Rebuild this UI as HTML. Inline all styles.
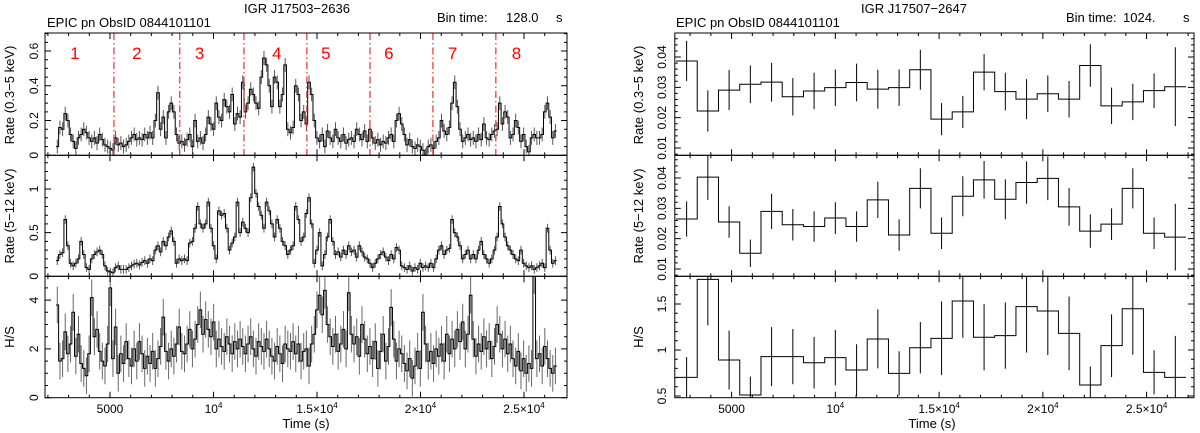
<!DOCTYPE html>
<html><head><meta charset="utf-8">
<style>
html,body{margin:0;padding:0;background:#fff;}
svg{display:block;font-family:"Liberation Sans","DejaVu Sans",sans-serif;}
</style></head>
<body>
<svg id="chart" width="1200" height="433" viewBox="0 0 1200 433" xmlns="http://www.w3.org/2000/svg">
<rect x="0" y="0" width="1200" height="433" fill="#fff"/>
<text x="297" y="13" font-size="13" text-anchor="middle">IGR J17503−2636</text>
<text x="47" y="27" font-size="13">EPIC pn ObsID 0844101101</text>
<text x="437" y="22" font-size="13">Bin time:</text>
<text x="506" y="22" font-size="13">128.0</text>
<text x="556" y="22" font-size="13">s</text>
<text x="914" y="13" font-size="13" text-anchor="middle">IGR J17507−2647</text>
<text x="676" y="27" font-size="13">EPIC pn ObsID 0844101101</text>
<text x="1066" y="22" font-size="13">Bin time:</text>
<text x="1123" y="22" font-size="13">1024.</text>
<text x="1183" y="22" font-size="13">s</text>
<text x="306" y="428" font-size="13" text-anchor="middle">Time (s)</text>
<text x="932" y="428" font-size="13" text-anchor="middle">Time (s)</text>
</svg>
<script>
// ---------- LEFT (IGR J17503-2636, 128 s bins) ----------
const L_t0 = 2390, L_bin = 128;
const L_soft = [0.05,0.16,0.15,0.24,0.20, 0.12,0.08,0.04,0.10,0.12, 0.15,0.13,0.10,0.08,0.10, 0.07,0.12,0.09,0.06,0.05,
0.04,0.03,0.10,0.06,0.07, 0.05,0.06,0.08,0.10,0.12, 0.09,0.10,0.09,0.12,0.10, 0.13,0.10,0.20,0.36,0.15,
0.22,0.10,0.25,0.30,0.25, 0.12,0.07,0.08,0.06,0.09, 0.12,0.05,0.20,0.08,0.10, 0.07,0.12,0.22,0.18,0.15,
0.30,0.22,0.20,0.32,0.28, 0.25,0.35,0.18,0.24,0.22, 0.42,0.25,0.30,0.38,0.35, 0.30,0.27,0.45,0.56,0.52,
0.40,0.28,0.45,0.42,0.28, 0.35,0.52,0.15,0.13,0.16, 0.40,0.35,0.20,0.25,0.18, 0.42,0.35,0.20,0.10,0.08,
0.12,0.05,0.14,0.10,0.08, 0.15,0.10,0.08,0.12,0.07, 0.09,0.10,0.08,0.15,0.12, 0.09,0.14,0.08,0.15,0.10,
0.07,0.09,0.06,0.08,0.07, 0.10,0.12,0.08,0.20,0.24, 0.18,0.12,0.06,0.09,0.05, 0.04,0.06,0.05,0.03,0.00,
0.05,0.06,0.04,0.08,0.10, 0.20,0.14,0.12,0.16,0.30, 0.42,0.28,0.15,0.08,0.10, 0.12,0.09,0.10,0.08,0.12,
0.09,0.18,0.10,0.09,0.12, 0.14,0.15,0.30,0.18,0.25, 0.22,0.10,0.12,0.20,0.16, 0.08,0.12,0.05,0.02,0.10,
0.12,0.10,0.10,0.12,0.25, 0.30,0.22,0.10,0.14];
const L_softErr = 0.04;
const L_hard = [0.18,0.25,0.27,0.65,0.35, 0.15,0.12,0.15,0.20,0.40, 0.25,0.10,0.08,0.20,0.25, 0.28,0.30,0.25,0.12,0.06,
0.05,0.04,0.10,0.12,0.08, 0.08,0.08,0.10,0.12,0.14, 0.15,0.13,0.16,0.18,0.15, 0.20,0.18,0.30,0.35,0.28,
0.40,0.35,0.45,0.52,0.40, 0.15,0.20,0.18,0.20,0.18, 0.38,0.40,0.55,0.80,0.60, 0.55,0.60,0.85,0.55,0.35,
0.20,0.75,0.70,0.72,0.55, 0.30,0.38,0.45,0.85,0.50, 0.62,0.55,0.50,0.90,1.25, 0.95,0.80,0.70,0.55,0.85,
0.75,0.60,0.45,0.65,0.55, 0.40,0.35,0.25,0.30,0.35, 0.80,0.65,0.40,0.45,0.72, 0.90,0.60,0.15,0.30,0.50,
0.12,0.25,0.45,0.65,0.40, 0.25,0.28,0.22,0.30,0.25, 0.35,0.28,0.30,0.22,0.35, 0.28,0.22,0.20,0.15,0.10,
0.15,0.20,0.25,0.28,0.22, 0.18,0.25,0.20,0.33,0.30, 0.12,0.10,0.08,0.12,0.06, 0.10,0.08,0.15,0.10,0.12,
0.10,0.15,0.10,0.20,0.30, 0.35,0.25,0.30,0.32,0.65, 0.50,0.45,0.35,0.20,0.25, 0.30,0.20,0.25,0.20,0.30,
0.40,0.25,0.20,0.15,0.20, 0.30,0.45,0.80,0.60,0.45, 0.35,0.30,0.25,0.20,0.18, 0.30,0.15,0.12,0.10,0.12,
0.08,0.10,0.12,0.15,0.10, 0.55,0.30,0.15,0.18];
const L_hardErr = 0.05;
const L_hr = [3.8,1.5,1.6,2.7,1.8,2.2,3.5,1.7,2.6,1.4, 1.2,0.9,1.8,4.1,2.5,2.8,1.9,1.5,1.3,2.2,
4.5,1.6,2.9,1.0,1.8,1.4,2.3,1.6,1.3,2.0, 1.5,2.3,1.8,1.2,1.7,1.4,1.9,1.2,1.6,2.1,
3.3,1.9,1.5,2.0,1.7,2.2,2.9,1.9,1.8,2.2, 2.8,2.0,2.4,3.0,3.6,2.6,3.2,2.8,2.5,3.1,
2.0,2.4,2.1,1.9,2.5,2.2,1.8,2.3,2.0,2.4, 2.1,1.8,2.2,2.5,2.0,1.7,2.3,2.1,1.9,2.4,
2.0,1.7,1.5,2.1,1.8,1.4,2.2,2.0,1.9,2.3, 1.8,2.2,1.5,1.9,2.0,1.3,2.2,2.6,3.6,4.2,
3.4,4.4,3.0,2.5,2.1,2.6,1.9,2.2,2.8,2.0, 4.3,2.6,2.2,2.5,1.7,3.0,2.4,1.8,2.1,1.6,
2.3,1.2,1.9,2.6,1.5,2.1,3.7,2.4,1.5,2.0, 1.8,1.4,1.1,1.6,0.8,1.3,1.9,1.2,3.5,2.2,
1.5,1.9,1.4,2.0,1.7,2.2,1.5,2.6,1.8,2.4, 2.0,2.8,2.3,3.1,2.0,2.6,4.2,2.4,1.7,2.2,
1.9,2.5,2.0,2.3,1.6,2.1,3.0,2.6,2.0,2.4, 1.8,2.2,1.6,1.3,1.9,1.1,1.6,1.0,1.4,1.2,
5.0,1.6,1.8,1.3,2.1,1.6,1.2,1.0,1.3];
const L_hrErr = 0.75;
const L_intervalTimes = [5190, 8370, 11470, 14510, 17560, 20600, 23640];
const L_intervalLabels = ["1","2","3","4","5","6","7","8"];
const L_intervalLabelTimes = [3300, 6300, 9330, 13060, 15430, 18470, 21550, 24640];

// ---------- RIGHT (IGR J17507-2647, 1024 s bins) ----------
const R_t0 = 2320, R_bin = 1024;
const R_soft = [0.0387,0.0222,0.0291,0.0310,0.0317,0.0269,0.0288,0.0299,0.0316,0.0294,0.0299,0.0358,
0.0195,0.0219,0.0350,0.0286,0.0261,0.0279,0.0261,0.0372,0.0239,0.0252,0.0289,0.0302];
const R_softErr = [0.0066,0.0068,0.0066,0.0062,0.0064,0.0062,0.0060,0.0060,0.0062,0.0064,0.0060,0.0066,
0.0053,0.0053,0.0060,0.0062,0.0066,0.0060,0.0060,0.0070,0.0060,0.0060,0.0057,0.0130];
const R_hard = [0.0265,0.0403,0.0255,0.0152,0.0290,0.0246,0.0240,0.0268,0.0240,0.0328,0.0212,0.0366,
0.0218,0.0340,0.0394,0.0330,0.0385,0.0399,0.0305,0.0225,0.0248,0.0366,0.0218,0.0205];
const R_hardErr = [0.0058,0.0075,0.0052,0.0045,0.0058,0.0052,0.0050,0.0052,0.0050,0.0060,0.0052,0.0066,
0.0052,0.0066,0.0062,0.0066,0.0070,0.0072,0.0062,0.0055,0.0052,0.0066,0.0052,0.0110];
const R_hr = [0.703,1.768,0.891,0.511,0.928,0.928,0.862,0.917,0.783,1.120,0.746,1.025,
1.127,1.533,1.138,1.156,1.471,1.424,1.181,0.620,1.047,1.449,0.757,0.703];
const R_hrErr = [0.22,0.50,0.32,0.20,0.32,0.30,0.28,0.30,0.28,0.32,0.24,0.28,
0.40,0.40,0.36,0.36,0.50,0.48,0.40,0.20,0.34,0.50,0.24,0.45];

// ---------- axes ----------
const NS = "http://www.w3.org/2000/svg";
const svg = document.getElementById("chart");
function xL(t){ return 45 + (t - 1860) * 0.0207; }
function xR(t){ return 674.8 + (t - 2263) * 0.02075; }
function yL1(v){ return 155.3 - v * 173.8; }
function yL2(v){ return 276.3 - v * 87.3; }
function yL3(v){ return 397.7 - v * 24.4; }
function yR1(v){ return 148 - (v - 0.01) * 3033; }
function yR2(v){ return 269 - (v - 0.01) * 3033; }
function yR3(v){ return 350 - (v - 1) * 92; }

function mk(tag, attrs, parent){
  const e = document.createElementNS(NS, tag);
  for (const k in attrs) e.setAttribute(k, attrs[k]);
  (parent || svg).appendChild(e);
  return e;
}

let clipId = 0;
function panel(name, x0, x1, y0, y1, xf, yf, tmin, tmax, yMajors, yMinorStep, yMin, yMax, yLabels, labelX, showX, xLabelY){
  const g = mk("g", {});
  
  
  const cid = "clip" + (clipId++);
  const cp = mk("clipPath", {id: cid}, g);
  mk("rect", {x: x0, y: y0, width: x1 - x0, height: y1 - y0}, cp);
  const marks = mk("g", {"clip-path": "url(#" + cid + ")"}, g);
  const frame = mk("rect", {x: x0, y: y0, width: x1 - x0, height: y1 - y0, fill: "none", stroke: "#000", "stroke-width": 1}, g);
  
  
  let d = "";
  for (let t = Math.ceil(tmin / 1000) * 1000; t <= tmax; t += 1000) {
    const x = xf(t);
    if (x < x0 || x > x1) continue;
    const len = (t % 5000 === 0) ? 6 : 3;
    d += "M" + x + " " + y1 + "v" + (-len) + "M" + x + " " + y0 + "v" + len;
  }
  const n = Math.round((yMax - yMin) / yMinorStep);
  for (let i = 0; i <= n; i++) {
    const v = yMin + i * yMinorStep;
    const y = yf(v);
    if (y < y0 - 0.1 || y > y1 + 0.1) continue;
    const major = yMajors.some(m => Math.abs(m - v) < yMinorStep / 10);
    const len = major ? 6 : 3;
    d += "M" + x0 + " " + y + "h" + len + "M" + x1 + " " + y + "h" + (-len);
  }
  const ticks = mk("path", {d: d, stroke: "#000", "stroke-width": 1, fill: "none"}, g);
  
  
  yMajors.forEach((m, i) => {
    const y = yf(m);
    const tx = mk("text", {x: labelX, y: y, "font-size": 12, "text-anchor": "middle", transform: "rotate(-90 " + labelX + " " + y + ")"}, g);
    tx.textContent = yLabels[i];
    
    
  });
  if (showX) {
    const xt = [[5000, "5000", ""], [10000, "10", "4"], [15000, "1.5×10", "4"], [20000, "2×10", "4"], [25000, "2.5×10", "4"]];
    xt.forEach(a => {
      const tx = mk("text", {x: xf(a[0]), y: xLabelY, "font-size": 12, "text-anchor": "middle"}, g);
      tx.appendChild(document.createTextNode(a[1]));
      if (a[2]) { const s = mk("tspan", {"font-size": 8, dy: -5}, tx); s.textContent = a[2]; }
      
      
    });
  }
  return marks;
}

function series(marks, name, vals, errs, t0, bin, xf, yf, errColor, lineColor){
  let d = "", e = "";
  for (let i = 0; i < vals.length; i++) {
    const xa = xf(t0 + i * bin), xb = xf(t0 + (i + 1) * bin), xc = xf(t0 + (i + 0.5) * bin);
    const y = yf(vals[i]);
    d += (i === 0 ? "M" + xa + " " + y : "V" + y) + "H" + xb;
    const er = Array.isArray(errs) ? errs[i] : errs;
    e += "M" + xc + " " + yf(vals[i] - er) + "V" + yf(vals[i] + er);
  }
  const ep = mk("path", {d: e, stroke: errColor, "stroke-width": 1, fill: "none"}, marks);
  
  
  const lp = mk("path", {d: d, stroke: lineColor, "stroke-width": 1, fill: "none"}, marks);
  
  
}

function ytitle(txt, x, y, name){
  const t = mk("text", {x: x, y: y, "font-size": 13, "text-anchor": "middle", transform: "rotate(-90 " + x + " " + y + ")"});
  t.textContent = txt;
  
  
}

const LX0 = 45, LX1 = 567;
const m1 = panel("left-soft-panel", LX0, LX1, 33, 155.3, xL, yL1, 1860, 26930, [0, 0.2, 0.4, 0.6], 0.05, 0, 0.7, ["0", "0.2", "0.4", "0.6"], 38, false);
series(m1, "left-soft-rate", L_soft, L_softErr, L_t0, L_bin, xL, yL1, "#555", "#000");
L_intervalTimes.forEach(t => {
  const l = mk("line", {x1: xL(t), x2: xL(t), y1: 33, y2: 155.3, stroke: "#e8302a", "stroke-width": 1.2, "stroke-dasharray": "7,3,1.5,3"}, m1);
  
  
});
L_intervalLabels.forEach((s, i) => {
  const t = mk("text", {x: xL(L_intervalLabelTimes[i]), y: 59, "font-size": 17, fill: "#f00", "text-anchor": "middle"});
  t.textContent = s;
  
  
});
const m2 = panel("left-hard-panel", LX0, LX1, 155.3, 276.3, xL, yL2, 1860, 26930, [0, 0.5, 1], 0.1, 0, 1.3, ["0", "0.5", "1"], 38, false);
series(m2, "left-hard-rate", L_hard, L_hardErr, L_t0, L_bin, xL, yL2, "#555", "#000");
const m3 = panel("left-hardness-panel", LX0, LX1, 276.3, 397.7, xL, yL3, 1860, 26930, [0, 2, 4], 0.5, 0, 4.5, ["0", "2", "4"], 38, true, 413);
series(m3, "left-hardness-ratio", L_hr, L_hrErr, L_t0, L_bin, xL, yL3, "#666", "#000");
ytitle("Rate (0.3−5 keV)", 14, 95, "left-soft-y-title");
ytitle("Rate (5−12 keV)", 14, 216, "left-hard-y-title");
ytitle("H/S", 14, 337, "left-hardness-y-title");

const RX0 = 674.8, RX1 = 1194;
const r1 = panel("right-soft-panel", RX0, RX1, 33, 155.3, xR, yR1, 2263, 27290, [0.01, 0.02, 0.03, 0.04], 0.002, 0.006, 0.05, ["0.01", "0.02", "0.03", "0.04"], 666, false);
series(r1, "right-soft-rate", R_soft, R_softErr, R_t0, R_bin, xR, yR1, "#000", "#000");
const r2 = panel("right-hard-panel", RX0, RX1, 155.3, 276.3, xR, yR2, 2263, 27290, [0.01, 0.02, 0.03, 0.04], 0.002, 0.008, 0.05, ["0.01", "0.02", "0.03", "0.04"], 666, false);
series(r2, "right-hard-rate", R_hard, R_hardErr, R_t0, R_bin, xR, yR2, "#000", "#000");
const r3 = panel("right-hardness-panel", RX0, RX1, 276.3, 397.7, xR, yR3, 2263, 27290, [0.5, 1, 1.5], 0.1, 0.5, 1.8, ["0.5", "1", "1.5"], 666, true, 413);
series(r3, "right-hardness-ratio", R_hr, R_hrErr, R_t0, R_bin, xR, yR3, "#000", "#000");
ytitle("Rate (0.3−5 keV)", 643, 95, "right-soft-y-title");
ytitle("Rate (5−12 keV)", 643, 216, "right-hard-y-title");
ytitle("H/S", 643, 337, "right-hardness-y-title");
</script>
</body></html>
